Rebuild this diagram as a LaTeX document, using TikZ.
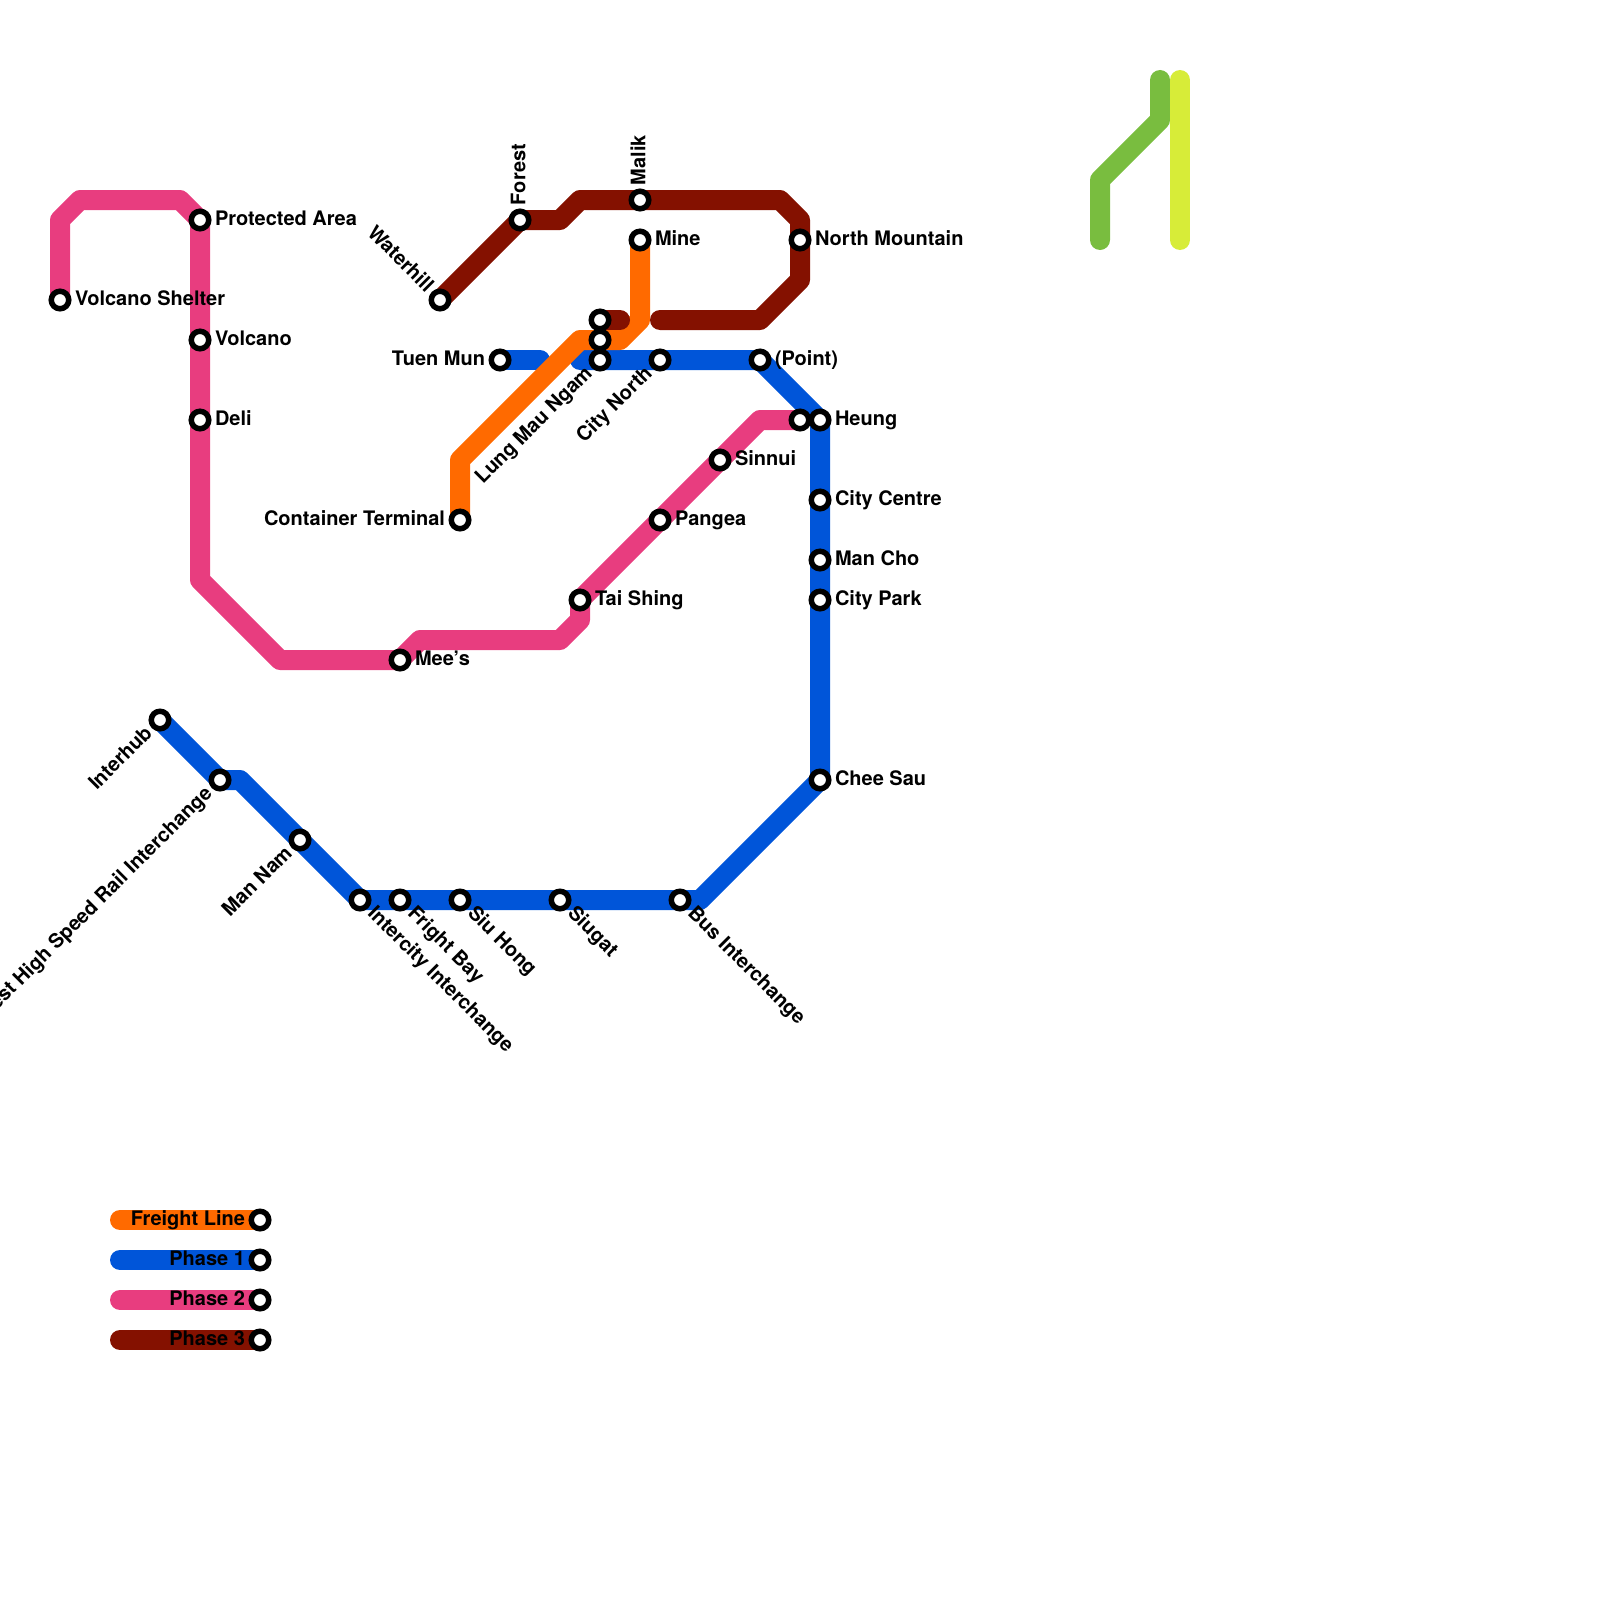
\documentclass[tikz,border=0pt]{standalone}
\usepackage{fontspec}
\setmainfont{TeX Gyre Heros}
\pgfdeclarelayer{lines}
\pgfsetlayers{lines,main}
\definecolor{cFreight}{HTML}{FF6A00}
\definecolor{cOne}{HTML}{0055D9}
\definecolor{cTwo}{HTML}{E83D7F}
\definecolor{cThree}{HTML}{841100}
\definecolor{cGreen}{HTML}{79BD3F}
\definecolor{cLime}{HTML}{D7EC38}
\tikzset{
  metro/.style={line width=20pt,line cap=round,line join=round},
  stn/.style={circle,draw=black,fill=white,line width=5.5pt,minimum size=17.5pt,inner sep=0pt,outer sep=0pt},
  lbl/.style={inner sep=0pt,outer sep=0pt,font=\fontsize{20}{22}\selectfont\bfseries,text=black},
  lr/.style={lbl,anchor=base west},
  ll/.style={lbl,anchor=base east}
}
\begin{document}
\begin{tikzpicture}[x=1pt,y=-1pt]
\useasboundingbox (0,0) rectangle (1600,1600);
% stations
\node[stn] (volshelter) at (60,300) {};
\node[stn] (protected) at (200,220) {};
\node[stn] (volcano) at (200,340) {};
\node[stn] (deli) at (200,420) {};
\node[stn] (mees) at (400,660) {};
\node[stn] (taishing) at (580,600) {};
\node[stn] (pangea) at (660,520) {};
\node[stn] (sinnui) at (720,460) {};
\node[stn] (ptwo) at (800,420) {};
\node[stn] (interhub) at (160,720) {};
\node[stn] (west) at (220,780) {};
\node[stn] (mannam) at (300,840) {};
\node[stn] (intercity) at (360,900) {};
\node[stn] (fright) at (400,900) {};
\node[stn] (siuhong) at (460,900) {};
\node[stn] (siugat) at (560,900) {};
\node[stn] (bus) at (680,900) {};
\node[stn] (cheesau) at (820,780) {};
\node[stn] (citypark) at (820,600) {};
\node[stn] (mancho) at (820,560) {};
\node[stn] (citycentre) at (820,500) {};
\node[stn] (heung) at (820,420) {};
\node[stn] (point) at (760,360) {};
\node[stn] (citynorth) at (660,360) {};
\node[stn] (lung) at (600,360) {};
\node[stn] (xmid) at (600,340) {};
\node[stn] (xtop) at (600,320) {};
\node[stn] (tuenmun) at (500,360) {};
\node[stn] (container) at (460,520) {};
\node[stn] (mine) at (640,240) {};
\node[stn] (waterhill) at (440,300) {};
\node[stn] (forest) at (520,220) {};
\node[stn] (malik) at (640,200) {};
\node[stn] (northmtn) at (800,240) {};
\node[stn] (legA) at (260,1220) {};
\node[stn] (legB) at (260,1260) {};
\node[stn] (legC) at (260,1300) {};
\node[stn] (legD) at (260,1340) {};
% free ends
\coordinate (legAs) at (120,1220);
\coordinate (legBs) at (120,1260);
\coordinate (legCs) at (120,1300);
\coordinate (legDs) at (120,1340);
\begin{pgfonlayer}{lines}
\draw[metro,cOne] (interhub.center) -- (west.center) -- (240,780) -- (mannam.center) -- (intercity.center) -- (fright.center) -- (siuhong.center) -- (siugat.center) -- (bus.center) -- (700,900) -- (cheesau.center) -- (citypark.center) -- (mancho.center) -- (citycentre.center) -- (heung.center) -- (point.center) -- (citynorth.center) -- (lung.center) -- (580,360);
\draw[metro,cOne] (tuenmun.center) -- (540,360);
\draw[metro,cTwo] (volshelter.center) -- (60,220) -- (80,200) -- (180,200) -- (protected.center) -- (volcano.center) -- (deli.center) -- (200,580) -- (280,660) -- (mees.center) -- (420,640) -- (560,640) -- (580,620) -- (taishing.center) -- (pangea.center) -- (sinnui.center) -- (760,420) -- (ptwo.center);
\draw[metro,cFreight] (container.center) -- (460,460) -- (580,340) -- (xmid.center) -- (620,340) -- (640,320) -- (mine.center);
\draw[metro,cThree] (waterhill.center) -- (forest.center) -- (560,220) -- (580,200) -- (malik.center) -- (780,200) -- (800,220) -- (northmtn.center) -- (800,280) -- (760,320) -- (660,320);
\draw[metro,cThree] (xtop.center) -- (620,320);
\draw[metro,cGreen] (1100,240) -- (1100,180) -- (1160,120) -- (1160,80);
\draw[metro,cLime] (1180,80) -- (1180,240);
\draw[metro,cFreight] (legAs) -- (legA.center);
\draw[metro,cOne] (legBs) -- (legB.center);
\draw[metro,cTwo] (legCs) -- (legC.center);
\draw[metro,cThree] (legDs) -- (legD.center);
\end{pgfonlayer}
% labels, right
\node[lr] (tVolshelter) at ([shift={(15,5.4)}]volshelter.center) {Volcano Shelter};
\node[lr] (tProtected) at ([shift={(15,5.4)}]protected.center) {Protected Area};
\node[lr] (tVolcano) at ([shift={(15,5.4)}]volcano.center) {Volcano};
\node[lr] (tDeli) at ([shift={(15,5.4)}]deli.center) {Deli};
\node[lr] (tMees) at ([shift={(15,5.4)}]mees.center) {Mee’s};
\node[lr] (tTai) at ([shift={(15,5.4)}]taishing.center) {Tai Shing};
\node[lr] (tPangea) at ([shift={(15,5.4)}]pangea.center) {Pangea};
\node[lr] (tSinnui) at ([shift={(15,5.4)}]sinnui.center) {Sinnui};
\node[lr] (tMine) at ([shift={(15,5.4)}]mine.center) {Mine};
\node[lr] (tNorth) at ([shift={(15,5.4)}]northmtn.center) {North Mountain};
\node[lr] (tPoint) at ([shift={(15,5.4)}]point.center) {(Point)};
\node[lr] (tHeung) at ([shift={(15,5.4)}]heung.center) {Heung};
\node[lr] (tCentre) at ([shift={(15,5.4)}]citycentre.center) {City Centre};
\node[lr] (tCho) at ([shift={(15,5.4)}]mancho.center) {Man Cho};
\node[lr] (tPark) at ([shift={(15,5.4)}]citypark.center) {City Park};
\node[lr] (tChee) at ([shift={(15,5.4)}]cheesau.center) {Chee Sau};
% labels, left
\node[ll] (tContainer) at ([shift={(-15,5.4)}]container.center) {Container Terminal};
\node[ll] (tTuen) at ([shift={(-15,5.4)}]tuenmun.center) {Tuen Mun};
\node[ll] (tLegA) at ([shift={(-15,5.4)}]legA.center) {Freight Line};
\node[ll] (tLegB) at ([shift={(-15,5.4)}]legB.center) {Phase 1};
\node[ll] (tLegC) at ([shift={(-15,5.4)}]legC.center) {Phase 2};
\node[ll] (tLegD) at ([shift={(-15,5.4)}]legD.center) {Phase 3};
% labels, vertical
\node[lr,rotate=90] (tForest) at ([shift={(5.4,-15)}]forest.center) {Forest};
\node[lr,rotate=90] (tMalik) at ([shift={(5.4,-15)}]malik.center) {Malik};
% labels, rising to the station
\node[ll,rotate=45] (tInterhub) at ([shift={(-6.8,14.5)}]interhub.center) {Interhub};
\node[ll,rotate=45] (tWest) at ([shift={(-6.8,14.5)}]west.center) {West High Speed Rail Interchange};
\node[ll,rotate=45] (tManNam) at ([shift={(-6.8,14.5)}]mannam.center) {Man Nam};
\node[ll,rotate=45] (tLung) at ([shift={(-6.8,14.5)}]lung.center) {Lung Mau Ngam};
\node[ll,rotate=45] (tCityN) at ([shift={(-6.8,14.5)}]citynorth.center) {City North};
\node[ll,rotate=-45] (tWater) at ([shift={(-14.5,-6.8)}]waterhill.center) {Waterhill};
% labels, falling from the station
\node[lr,rotate=-45] (tIntercity) at ([shift={(6.8,14.5)}]intercity.center) {Intercity Interchange};
\node[lr,rotate=-45] (tFright) at ([shift={(6.8,14.5)}]fright.center) {Fright Bay};
\node[lr,rotate=-45] (tSiu) at ([shift={(6.8,14.5)}]siuhong.center) {Siu Hong};
\node[lr,rotate=-45] (tSiugat) at ([shift={(6.8,14.5)}]siugat.center) {Siugat};
\node[lr,rotate=-45] (tBus) at ([shift={(6.8,14.5)}]bus.center) {Bus Interchange};
\end{tikzpicture}
\end{document}
